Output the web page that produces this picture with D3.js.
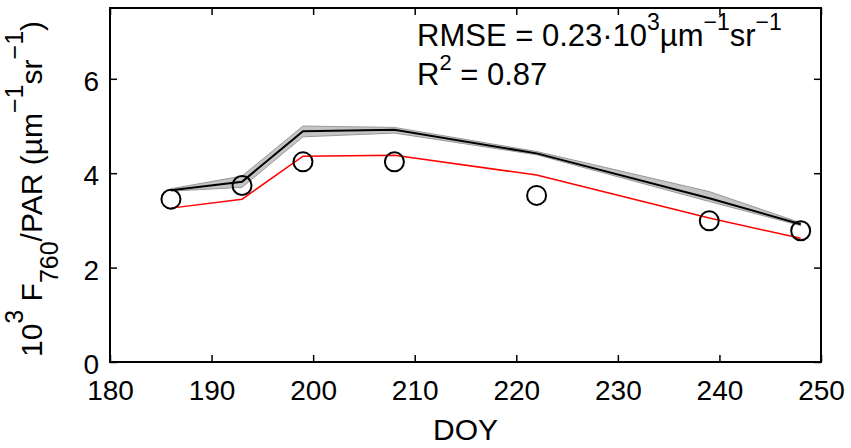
<!DOCTYPE html>
<html>
<head>
<meta charset="utf-8">
<script src="https://cdn.jsdelivr.net/npm/d3@7"></script>
<style>
  body { margin: 0; background: #fff; }
  svg { display: block; font-family: "Liberation Sans", Arial, Helvetica, sans-serif; }
</style>
</head>
<body>
<div id="chart"></div>
<script>
// day of year of each campaign
const doy = [186, 193, 199, 208, 222, 239, 248];
// measured F760/PAR (circles)
const observed = [3.45, 3.74, 4.24, 4.24, 3.53, 2.99, 2.78];
// red model run
const modelRed = [3.26, 3.45, 4.36, 4.38, 3.96, 3.05, 2.62];
// black ensemble mean and its spread
const modelMean = [3.64, 3.82, 4.89, 4.92, 4.42, 3.47, 2.92];
const bandLow = [3.62, 3.70, 4.77, 4.85, 4.39, 3.40, 2.89];
const bandHigh = [3.67, 3.94, 5.00, 4.97, 4.46, 3.61, 2.95];

const xTicks = [180, 190, 200, 210, 220, 230, 240, 250];
const yTicks = [0, 2, 4, 6];

const width = 851, height = 448;
const margin = {top: 8, right: 30, bottom: 86, left: 110};
const iw = width - margin.left - margin.right;
const ih = height - margin.top - margin.bottom;

const svg = d3.select("#chart").append("svg")
    .attr("width", width)
    .attr("height", height);

const g = svg.append("g")
    .attr("transform", "translate(" + margin.left + "," + margin.top + ")");

const x = d3.scaleLinear().domain([180, 250]).range([0, iw]);
const y = d3.scaleLinear().domain([0, 7.5]).range([ih, 0]);

const rows = doy.map(function(d, i) {
  return {doy: d, obs: observed[i], red: modelRed[i], mean: modelMean[i], lo: bandLow[i], hi: bandHigh[i]};
});

// grey spread band
g.append("path")
    .datum(rows)
    .attr("d", d3.area()
        .x(function(d) { return x(d.doy); })
        .y0(function(d) { return y(d.lo); })
        .y1(function(d) { return y(d.hi); }))
    .attr("fill", "#c4c4c4")
    .attr("stroke", "#999")
    .attr("stroke-width", 1);

// mean line
g.append("path")
    .datum(rows)
    .attr("d", d3.line()
        .x(function(d) { return x(d.doy); })
        .y(function(d) { return y(d.mean); }))
    .attr("fill", "none")
    .attr("stroke", "#000")
    .attr("stroke-width", 2);

// red line
g.append("path")
    .datum(rows)
    .attr("d", d3.line()
        .x(function(d) { return x(d.doy); })
        .y(function(d) { return y(d.red); }))
    .attr("fill", "none")
    .attr("stroke", "#ff0000")
    .attr("stroke-width", 1.5);

// observations
g.selectAll(".obs")
    .data(rows)
    .enter()
    .append("circle")
    .attr("class", "obs")
    .attr("cx", function(d) { return x(d.doy); })
    .attr("cy", function(d) { return y(d.obs); })
    .attr("r", 9.5)
    .attr("fill", "none")
    .attr("stroke", "#000")
    .attr("stroke-width", 2);

// axes, ticks pointing inward on all four sides
function styleAxis(sel, fs) {
  sel.select(".domain").remove();
  sel.selectAll(".tick line").attr("stroke", "#000").attr("stroke-width", 1.5);
  sel.selectAll(".tick text").attr("fill", "#000").attr("font-size", fs)
      .attr("font-family", "Liberation Sans, Arial, sans-serif");
}

const xb = g.append("g")
    .attr("transform", "translate(0," + ih + ")")
    .call(d3.axisBottom(x).tickValues(xTicks).tickSize(-7).tickPadding(18).tickFormat(d3.format("d")));
styleAxis(xb, 28);

g.append("g")
    .call(d3.axisTop(x).tickValues(xTicks).tickSize(-7).tickFormat(""))
    .call(styleAxis, 28);

const yl = g.append("g")
    .call(d3.axisLeft(y).tickValues(yTicks).tickSize(-7).tickPadding(11).tickFormat(d3.format("d")));
styleAxis(yl, 28);
yl.selectAll(".tick text").attr("dy", "0.42em");

g.append("g")
    .attr("transform", "translate(" + iw + ",0)")
    .call(d3.axisRight(y).tickValues(yTicks).tickSize(-7).tickFormat(""))
    .call(styleAxis, 28);

// frame
g.append("rect")
    .attr("width", iw)
    .attr("height", ih)
    .attr("fill", "none")
    .attr("stroke", "#000")
    .attr("stroke-width", 2);

// x label
svg.append("text")
    .attr("x", margin.left + iw / 2)
    .attr("y", 440)
    .attr("text-anchor", "middle")
    .attr("font-size", 30)
    .attr("fill", "#000")
    .text("DOY");

// y label with sub/superscripts
const ylab = svg.append("text")
    .attr("transform", "translate(42,189) rotate(-90)")
    .attr("text-anchor", "middle")
    .attr("font-size", 30)
    .attr("fill", "#000");
ylab.append("tspan").text("10");
ylab.append("tspan").attr("font-size", 25).attr("dy", -19).text("3");
ylab.append("tspan").attr("dy", 19).text(" F");
ylab.append("tspan").attr("font-size", 25).attr("dy", 16).text("760");
ylab.append("tspan").attr("dy", -16).text("/PAR (\u00b5m");
ylab.append("tspan").attr("font-size", 25).attr("dy", -19).text("\u22121");
ylab.append("tspan").attr("dy", 19).text("sr");
ylab.append("tspan").attr("font-size", 25).attr("dy", -19).text("\u22121");
ylab.append("tspan").attr("dy", 19).text(")");

// statistics annotation
const ann1 = svg.append("text")
    .attr("x", 417)
    .attr("y", 46)
    .attr("font-size", 31)
    .attr("fill", "#000");
ann1.append("tspan").text("RMSE = 0.23\u00b710");
ann1.append("tspan").attr("font-size", 23).attr("dy", -16).text("3");
ann1.append("tspan").attr("dy", 16).text("\u00b5m");
ann1.append("tspan").attr("font-size", 23).attr("dy", -16).text("\u22121");
ann1.append("tspan").attr("dy", 16).text("sr");
ann1.append("tspan").attr("font-size", 23).attr("dy", -16).text("\u22121");

const ann2 = svg.append("text")
    .attr("x", 417)
    .attr("y", 85)
    .attr("font-size", 31)
    .attr("fill", "#000");
ann2.append("tspan").text("R");
ann2.append("tspan").attr("font-size", 22).attr("dy", -15).text("2");
ann2.append("tspan").attr("dy", 15).text(" = 0.87");
</script>
</body>
</html>
